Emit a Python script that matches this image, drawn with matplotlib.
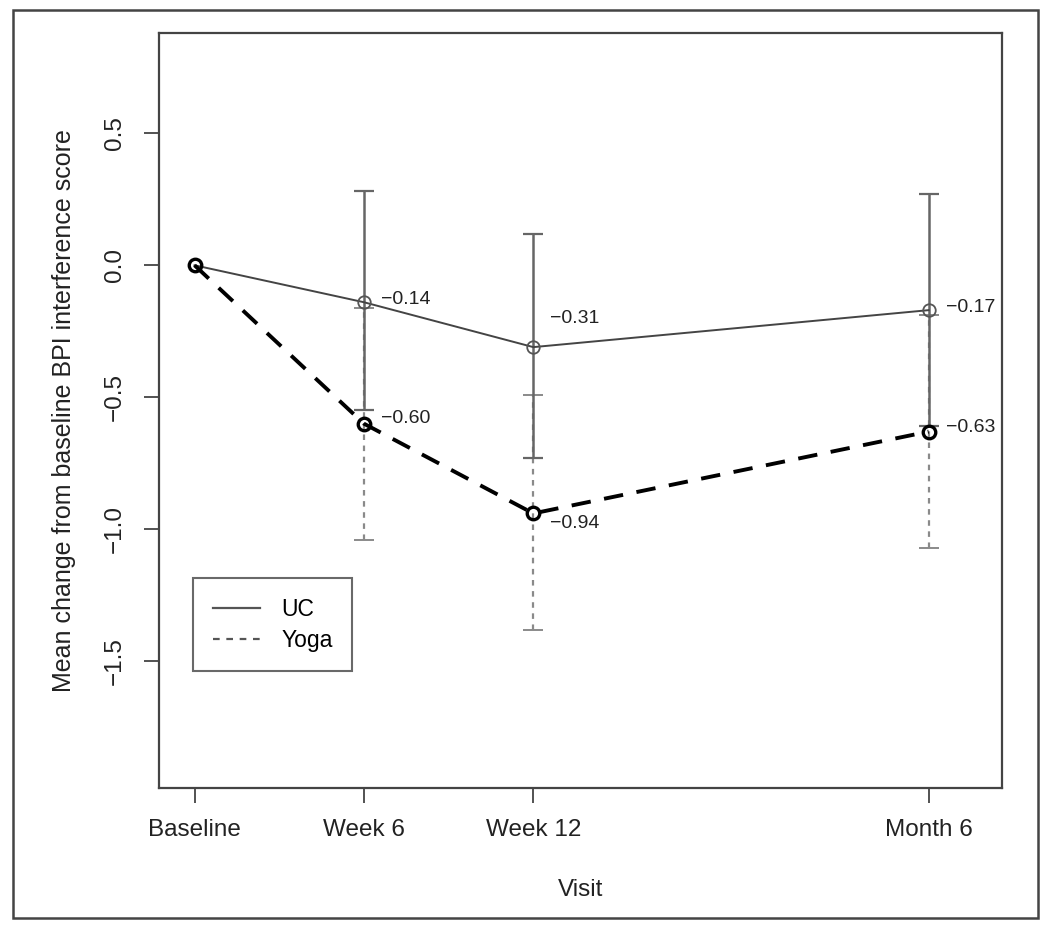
import numpy as np
import matplotlib
matplotlib.use('Agg')
import matplotlib.pyplot as plt
from matplotlib.patches import Rectangle

plt.rcParams['font.family'] = ['Liberation Sans', 'DejaVu Sans']

# Data
visits = ['Baseline', 'Week 6', 'Week 12', 'Month 6']
weeks = [0, 6, 12, 26]
uc_mean = [0.0, -0.14, -0.31, -0.17]
uc_lower = [0.0, -0.55, -0.73, -0.61]
uc_upper = [0.0, 0.28, 0.12, 0.27]
yoga_mean = [0.0, -0.60, -0.94, -0.63]
yoga_lower = [0.0, -1.04, -1.38, -1.07]
yoga_upper = [0.0, -0.16, -0.49, -0.19]
uc_labels = ['', '\u22120.14', '\u22120.31', '\u22120.17']
yoga_labels = ['', '\u22120.60', '\u22120.94', '\u22120.63']

x = np.array(weeks, dtype=float)
ucm, ucl, ucu = map(np.array, (uc_mean, uc_lower, uc_upper))
ym, yl, yu = map(np.array, (yoga_mean, yoga_lower, yoga_upper))

fig = plt.figure(figsize=(10.5, 9.31), dpi=100)
ax = fig.add_axes([0.1514, 0.1536, 0.8029, 0.811])

# outer frame
fig.patches.append(Rectangle((0.0124, 0.014), 0.9762, 0.975, transform=fig.transFigure,
                             fill=False, edgecolor='#444444', linewidth=1.8))

# error bars (skip baseline)
eb_y = ax.errorbar(x[1:], ym[1:], yerr=[ym[1:] - yl[1:], yu[1:] - ym[1:]], fmt='none',
                   ecolor='#8a8a8a', elinewidth=1.6, capsize=7, capthick=1.4, zorder=2)
eb_y[2][0].set_linestyle((0, (2.5, 2.5)))
# upper caps of the yoga bars sit under the UC bars and look faint
for cl in eb_y[1]:
    if np.allclose(cl.get_ydata(), yu[1:]):
        cl.set_color('#dcdcdc')
        cl.set_zorder(1)
eb_u = ax.errorbar(x[1:], ucm[1:], yerr=[ucm[1:] - ucl[1:], ucu[1:] - ucm[1:]], fmt='none',
                   ecolor='#666666', elinewidth=1.8, capsize=7, capthick=1.6, zorder=3)

# lines
ax.plot(x, ucm, color='#444444', linewidth=1.4, marker='o', markersize=9,
        markerfacecolor='none', markeredgecolor='#555555', markeredgewidth=1.3,
        label='UC', zorder=4)
ax.plot(x, ym, color='black', linewidth=2.8, linestyle=(0, (5, 3.5)), marker='o',
        markersize=9, markerfacecolor='none', markeredgecolor='black',
        markeredgewidth=2.4, label='Yoga', zorder=5)

# value labels
uc_dy = [0, 0.01, 0.11, 0.01]
yoga_dy = [0, 0.02, -0.04, 0.015]
for i in range(1, len(x)):
    ax.text(x[i] + 0.6, ucm[i] + uc_dy[i], uc_labels[i], fontsize=14,
            va='center', ha='left', color='#222222')
    ax.text(x[i] + 0.6, ym[i] + yoga_dy[i], yoga_labels[i], fontsize=14,
            va='center', ha='left', color='#222222')

ax.set_xlim(-1.26, 28.6)
ax.set_ylim(-1.98, 0.88)
ax.set_xticks(weeks)
ax.set_xticklabels(visits)
ax.set_yticks([0.5, 0.0, -0.5, -1.0, -1.5])
ax.set_yticklabels(['0.5', '0.0', '\u22120.5', '\u22121.0', '\u22121.5'],
                   rotation=90, va='center')
ax.tick_params(axis='both', length=11, width=1.3, color='#444444',
               labelsize=17.5, labelcolor='#222222')
ax.tick_params(axis='x', pad=11)
ax.tick_params(axis='y', pad=13)
for s in ax.spines.values():
    s.set_color('#444444')
    s.set_linewidth(1.6)

ax.set_xlabel('Visit', fontsize=17.5, labelpad=28, color='#222222')
ax.set_ylabel('Mean change from baseline BPI interference score', fontsize=18,
              labelpad=20, color='#222222')

# legend in its own box
leg_handles = [plt.Line2D([], [], color='#555555', linewidth=1.6),
               plt.Line2D([], [], color='#555555', linewidth=1.6, linestyle=(0, (3, 3)))]
leg = ax.legend(leg_handles, ['UC', 'Yoga'], loc='upper left',
                bbox_to_anchor=(0.0405, 0.278), fontsize=16.5, frameon=True,
                fancybox=False, edgecolor='#444444', handlelength=2.05,
                handletextpad=0.95, borderpad=0.85, labelspacing=0.35,
                borderaxespad=0)
leg.get_frame().set_linewidth(1.5)

fig.savefig('out.png', dpi=100)
